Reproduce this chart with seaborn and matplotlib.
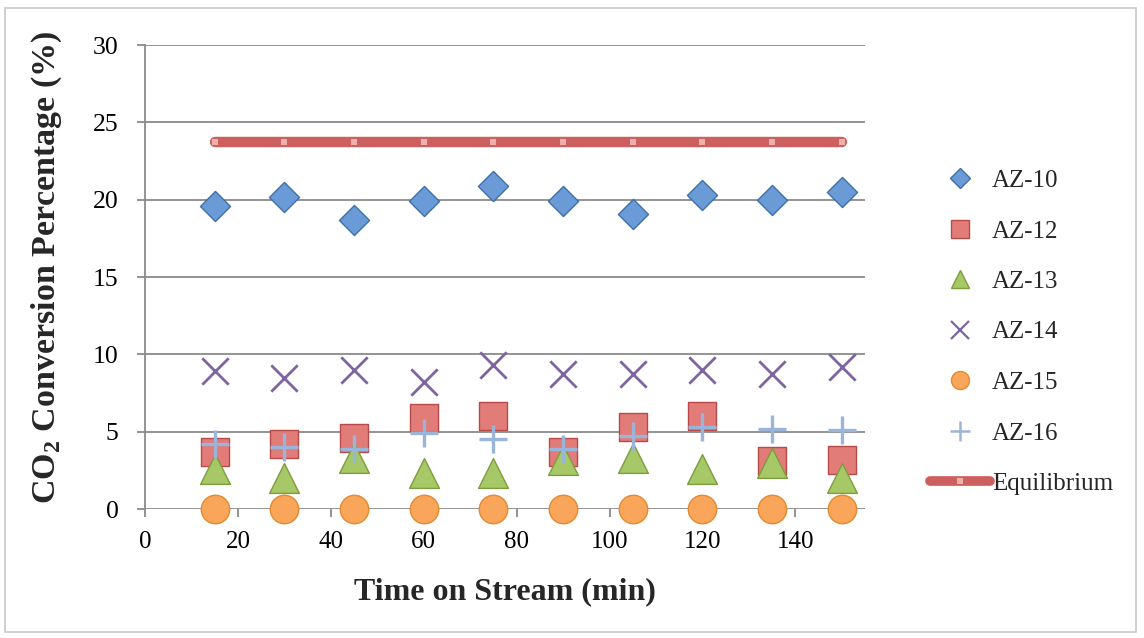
import matplotlib
matplotlib.use("Agg")
import matplotlib.pyplot as plt
from matplotlib.lines import Line2D
from matplotlib.patches import Rectangle
import seaborn as sns
import pandas as pd

# ---- data ----
time_min = [15, 30, 45, 60, 75, 90, 105, 120, 135, 150]
az10 = [19.6, 20.2, 18.7, 19.9, 20.9, 19.9, 19.1, 20.3, 20.0, 20.5]
az12 = [3.7, 4.2, 4.6, 5.9, 6.0, 3.7, 5.3, 6.0, 3.1, 3.2]
az13 = [2.6, 2.0, 3.3, 2.3, 2.3, 3.2, 3.3, 2.6, 3.0, 2.0]
az14 = [8.9, 8.5, 9.0, 8.2, 9.3, 8.7, 8.7, 9.0, 8.7, 9.2]
az15 = [0, 0, 0, 0, 0, 0, 0, 0, 0, 0]
az16 = [4.2, 4.0, 3.9, 4.9, 4.5, 3.9, 4.7, 5.3, 5.2, 5.1]
equilibrium = [23.7] * 10
series_names = ["AZ-10", "AZ-12", "AZ-13", "AZ-14", "AZ-15", "AZ-16", "Equilibrium"]
x_ticks = [0, 20, 40, 60, 80, 100, 120, 140]
y_ticks = [0, 5, 10, 15, 20, 25, 30]

sns.set_style("white")
plt.rcParams["font.family"] = ["Liberation Serif", "DejaVu Serif"]
plt.rcParams["mathtext.fontset"] = "custom"
plt.rcParams["mathtext.rm"] = "Liberation Serif:bold"
plt.rcParams["mathtext.bf"] = "Liberation Serif:bold"

W, H = 1144, 638
fig = plt.figure(figsize=(W / 100, H / 100), dpi=100)
ax = fig.add_axes([145 / W, 1 - 509 / H, (865 - 145) / W, (509 - 45) / H])

# outer chart border
fig.patches.append(Rectangle((5 / W, 6 / H), (1136 - 5) / W, (630 - 6) / H,
                             transform=fig.transFigure, fill=False,
                             edgecolor="#c8c8c8", linewidth=1.2))

specs = [
    (az10, "D", 235, "#6b9bd6", "#3f6fa8", 1.0),
    (az12, "s", 400, "#e27c79", "#b84a47", 1.0),
    (az13, "^", 460, "#a6c866", "#7d9d3d", 1.0),
    (az14, "x", 360, "#7e64a0", None, 2.0),
    (az15, "o", 420, "#f9a55a", "#e48a30", 1.0),
    (az16, "+", 380, "#9ab5da", None, 2.4),
]
for i, (vals, mk, s, fc, ec, lw) in enumerate(specs):
    df = pd.DataFrame({"t": time_min, "v": vals})
    if ec is None:
        sns.scatterplot(data=df, x="t", y="v", marker=mk, s=s, color=fc,
                        linewidth=lw, ax=ax, zorder=3 + i, legend=False,
                        clip_on=False)
    else:
        sns.scatterplot(data=df, x="t", y="v", marker=mk, s=s, color=fc,
                        edgecolor=ec, linewidth=lw, ax=ax, zorder=3 + i,
                        legend=False, clip_on=False)

eq_df = pd.DataFrame({"t": time_min, "v": equilibrium})
sns.lineplot(data=eq_df, x="t", y="v", color="#cd605e", linewidth=7.5,
             solid_capstyle="round", marker="s", markersize=5,
             markerfacecolor="#eab1af", markeredgewidth=0, ax=ax, zorder=10)

ax.set_xlim(0, 155)
ax.set_ylim(0, 30)
ax.set_xticks(x_ticks)
ax.set_yticks(y_ticks)
ax.set_xticklabels([str(v) for v in x_ticks], fontsize=18)
ax.set_yticklabels([str(v) for v in y_ticks], fontsize=18.5)
ax.yaxis.grid(True, color="#8a8a8a", linewidth=1.3)
ax.xaxis.grid(False)
for side in ["top", "right", "bottom"]:
    ax.spines[side].set_visible(False)
ax.spines["left"].set_color("#8a8a8a")
ax.spines["left"].set_linewidth(1.3)
ax.tick_params(axis="both", direction="out", length=6, width=1.3,
               color="#8a8a8a", colors="black")
ax.tick_params(axis="x", bottom=True, pad=10)
ax.tick_params(axis="y", left=True, pad=13)

ax.set_xlabel("Time on Stream (min)", fontsize=23, fontweight="bold", labelpad=17)
ax.set_ylabel(r"CO$_\mathbf{2}$ Conversion Percentage (%)", fontsize=24.5,
              fontweight="bold")
ax.yaxis.set_label_coords(-0.112, 0.52)

handles = [
    Line2D([], [], linestyle="none", marker="D", markersize=10, markerfacecolor="#6b9bd6", markeredgecolor="#3f6fa8"),
    Line2D([], [], linestyle="none", marker="s", markersize=13, markerfacecolor="#e27c79", markeredgecolor="#b84a47"),
    Line2D([], [], linestyle="none", marker="^", markersize=13, markerfacecolor="#a6c866", markeredgecolor="#7d9d3d"),
    Line2D([], [], linestyle="none", marker="x", markersize=13, markeredgecolor="#7e64a0", markeredgewidth=1.6),
    Line2D([], [], linestyle="none", marker="o", markersize=13, markerfacecolor="#f9a55a", markeredgecolor="#e48a30"),
    Line2D([], [], linestyle="none", marker="+", markersize=14, markeredgecolor="#9ab5da", markeredgewidth=1.8),
    Line2D([], [], color="#cd605e", linewidth=7, solid_capstyle="round", marker="s",
           markersize=5, markerfacecolor="#eab1af", markeredgewidth=0),
]
leg = fig.legend(handles, series_names, loc="upper left",
                 bbox_to_anchor=(917 / W, 1 - 157 / H), frameon=False,
                 fontsize=18, handlelength=2.4, handletextpad=0.1,
                 labelspacing=1.12, borderpad=0)

fig.savefig("out.png", dpi=100)
